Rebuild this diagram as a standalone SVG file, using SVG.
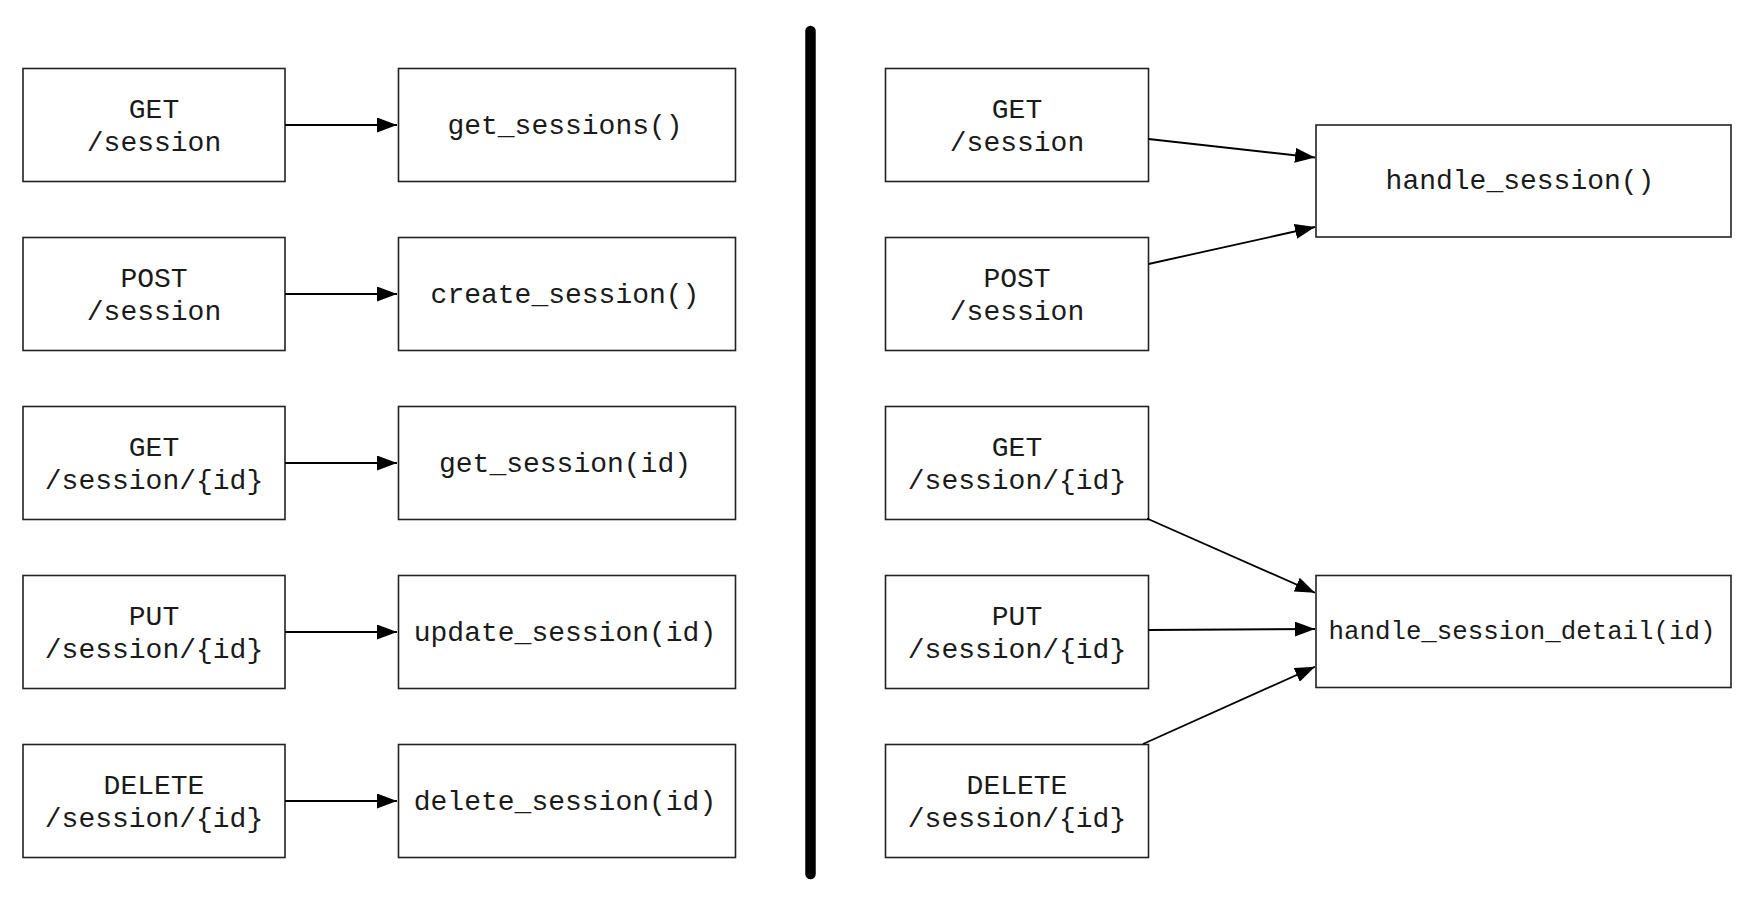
<svg xmlns="http://www.w3.org/2000/svg" width="1752" height="906" viewBox="0 0 1752 906">
  <defs>
    <marker id="arrow" markerUnits="userSpaceOnUse" markerWidth="20" markerHeight="15" refX="20" refY="7.5" orient="auto">
      <path d="M0,0 L20,7.5 L0,15 z" fill="#000"/>
    </marker>
  </defs>
  <style>
    .box { fill: #fff; stroke: #222; stroke-width: 1.6; }
    .t { font-family: "Liberation Mono", "Courier New", monospace; font-size: 28px; fill: #1a1a1a; text-anchor: middle; }
    .small { font-size: 25.8px; }
    .edge { stroke: #000; stroke-width: 1.8; fill: none; marker-end: url(#arrow); }
    .divider { stroke: #000; stroke-width: 10.5; stroke-linecap: round; }
  </style>
  <rect width="1752" height="906" fill="#fff"/>

  <g id="divider">
    <line class="divider" x1="810.5" y1="31" x2="810.5" y2="874"/>
  </g>

  <!-- Left side: request nodes -->
  <g id="l-get-session">
    <rect class="box" x="23" y="68.5" width="262" height="113"/>
    <text class="t" x="154" y="117.5">GET</text>
    <text class="t" x="154" y="150.5">/session</text>
  </g>
  <g id="l-post-session">
    <rect class="box" x="23" y="237.5" width="262" height="113"/>
    <text class="t" x="154" y="286.5">POST</text>
    <text class="t" x="154" y="319.5">/session</text>
  </g>
  <g id="l-get-session-id">
    <rect class="box" x="23" y="406.5" width="262" height="113"/>
    <text class="t" x="154" y="455.5">GET</text>
    <text class="t" x="154" y="488.5">/session/{id}</text>
  </g>
  <g id="l-put-session-id">
    <rect class="box" x="23" y="575.5" width="262" height="113"/>
    <text class="t" x="154" y="624.5">PUT</text>
    <text class="t" x="154" y="657.5">/session/{id}</text>
  </g>
  <g id="l-delete-session-id">
    <rect class="box" x="23" y="744.5" width="262" height="113"/>
    <text class="t" x="154" y="793.5">DELETE</text>
    <text class="t" x="154" y="826.5">/session/{id}</text>
  </g>

  <!-- Left side: handler nodes -->
  <g id="get-sessions">
    <rect class="box" x="398.5" y="68.5" width="337" height="113"/>
    <text class="t" x="565" y="133.7">get_sessions()</text>
  </g>
  <g id="create-session">
    <rect class="box" x="398.5" y="237.5" width="337" height="113"/>
    <text class="t" x="565" y="302.7">create_session()</text>
  </g>
  <g id="get-session">
    <rect class="box" x="398.5" y="406.5" width="337" height="113"/>
    <text class="t" x="565" y="471.7">get_session(id)</text>
  </g>
  <g id="update-session">
    <rect class="box" x="398.5" y="575.5" width="337" height="113"/>
    <text class="t" x="565" y="640.7">update_session(id)</text>
  </g>
  <g id="delete-session">
    <rect class="box" x="398.5" y="744.5" width="337" height="113"/>
    <text class="t" x="565" y="809.7">delete_session(id)</text>
  </g>

  <!-- Right side: request nodes -->
  <g id="r-get-session">
    <rect class="box" x="885.5" y="68.5" width="263" height="113"/>
    <text class="t" x="1017" y="117.5">GET</text>
    <text class="t" x="1017" y="150.5">/session</text>
  </g>
  <g id="r-post-session">
    <rect class="box" x="885.5" y="237.5" width="263" height="113"/>
    <text class="t" x="1017" y="286.5">POST</text>
    <text class="t" x="1017" y="319.5">/session</text>
  </g>
  <g id="r-get-session-id">
    <rect class="box" x="885.5" y="406.5" width="263" height="113"/>
    <text class="t" x="1017" y="455.5">GET</text>
    <text class="t" x="1017" y="488.5">/session/{id}</text>
  </g>
  <g id="r-put-session-id">
    <rect class="box" x="885.5" y="575.5" width="263" height="113"/>
    <text class="t" x="1017" y="624.5">PUT</text>
    <text class="t" x="1017" y="657.5">/session/{id}</text>
  </g>
  <g id="r-delete-session-id">
    <rect class="box" x="885.5" y="744.5" width="263" height="113"/>
    <text class="t" x="1017" y="793.5">DELETE</text>
    <text class="t" x="1017" y="826.5">/session/{id}</text>
  </g>

  <!-- Right side: handler nodes -->
  <g id="handle-session">
    <rect class="box" x="1316" y="125" width="415" height="112"/>
    <text class="t" x="1520" y="189.3">handle_session()</text>
  </g>
  <g id="handle-session-detail">
    <rect class="box" x="1316" y="575.5" width="415" height="112"/>
    <text class="t small" x="1522" y="638.5">handle_session_detail(id)</text>
  </g>

  <g id="connectors">
    <line class="edge" x1="285" y1="125" x2="397" y2="125"/>
    <line class="edge" x1="285" y1="294" x2="397" y2="294"/>
    <line class="edge" x1="285" y1="463" x2="397" y2="463"/>
    <line class="edge" x1="285" y1="632" x2="397" y2="632"/>
    <line class="edge" x1="285" y1="801" x2="397" y2="801"/>

    <line class="edge" x1="1148.5" y1="139" x2="1315" y2="157.5"/>
    <line class="edge" x1="1148.5" y1="264" x2="1315" y2="227"/>
    <line class="edge" x1="1147" y1="518.5" x2="1315" y2="592.7"/>
    <line class="edge" x1="1148.5" y1="630" x2="1315" y2="629"/>
    <line class="edge" x1="1143" y1="744" x2="1315" y2="666.7"/>
  </g>
</svg>
